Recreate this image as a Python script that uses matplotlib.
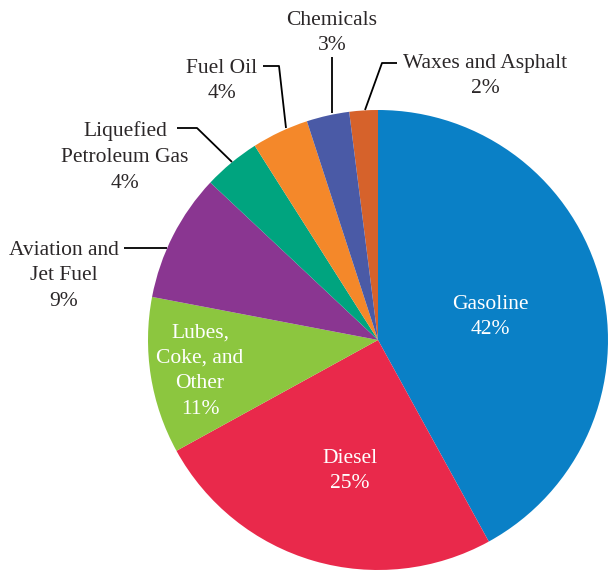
import numpy as np
import matplotlib.pyplot as plt

# Data
labels = ["Waxes and Asphalt", "Gasoline", "Diesel", "Lubes, Coke, and Other",
          "Aviation and Jet Fuel", "Liquefied Petroleum Gas", "Fuel Oil", "Chemicals"]
shares = [2, 42, 25, 11, 9, 4, 4, 3]
colors = ["#d6622b", "#0a80c6", "#e9294b", "#8cc63f",
          "#8a3691", "#00a47f", "#f4882a", "#4a5aa6"]

# Geometry in pixel units (y up)
W, H = 608, 570
cx, cy, R = 378, 570 - 340, 230

fig = plt.figure(figsize=(W / 100, H / 100), dpi=100)
ax = fig.add_axes([0, 0, 1, 1])

# start of Waxes at 90 + 2% (clockwise)
start = 90 + shares[0] / 100 * 360
ax.pie(shares, colors=colors, startangle=start, counterclock=False,
       center=(cx, cy), radius=R, wedgeprops=dict(linewidth=0))

ax.set_xlim(0, W)
ax.set_ylim(0, H)
ax.set_aspect("auto")
ax.axis("off")

plt.rcParams["font.family"] = "Liberation Serif"
FS = 15.5
dark = "#2b2728"


def py(y):
    return H - y


def txt(x, y, s, color=dark, ha="center"):
    # small offset so the label block sits like the original
    ax.text(x, py(y + 3), s, fontsize=FS, color=color, ha=ha, va="center",
            linespacing=1.47)


# Inside labels
txt(490, 314, "Gasoline\n42%", color="white")
txt(350, 468, "Diesel\n25%", color="white")
txt(200, 368, "Lubes,\nCoke, and\nOther\n11%", color="white")

# Outside labels
txt(332, 30, "Chemicals\n3%")
txt(222, 78, "Fuel Oil\n4%")
txt(485, 73, "Waxes and Asphalt\n2%")
txt(125, 154, "Liquefied\nPetroleum Gas\n4%")
txt(64, 273, "Aviation and\nJet Fuel\n9%")

# Leader lines
leaders = [
    ([263, 279, 286], [66, 66, 128]),
    ([332, 332], [57, 113]),
    ([397, 382, 365], [63, 63, 110]),
    ([177, 197, 232], [128, 128, 162]),
    ([124, 167], [248, 248]),
]
for xs, ys in leaders:
    ax.plot(xs, [py(v) for v in ys], color="black", lw=1.3,
            solid_capstyle="butt")

fig.savefig("out.png", dpi=100)
